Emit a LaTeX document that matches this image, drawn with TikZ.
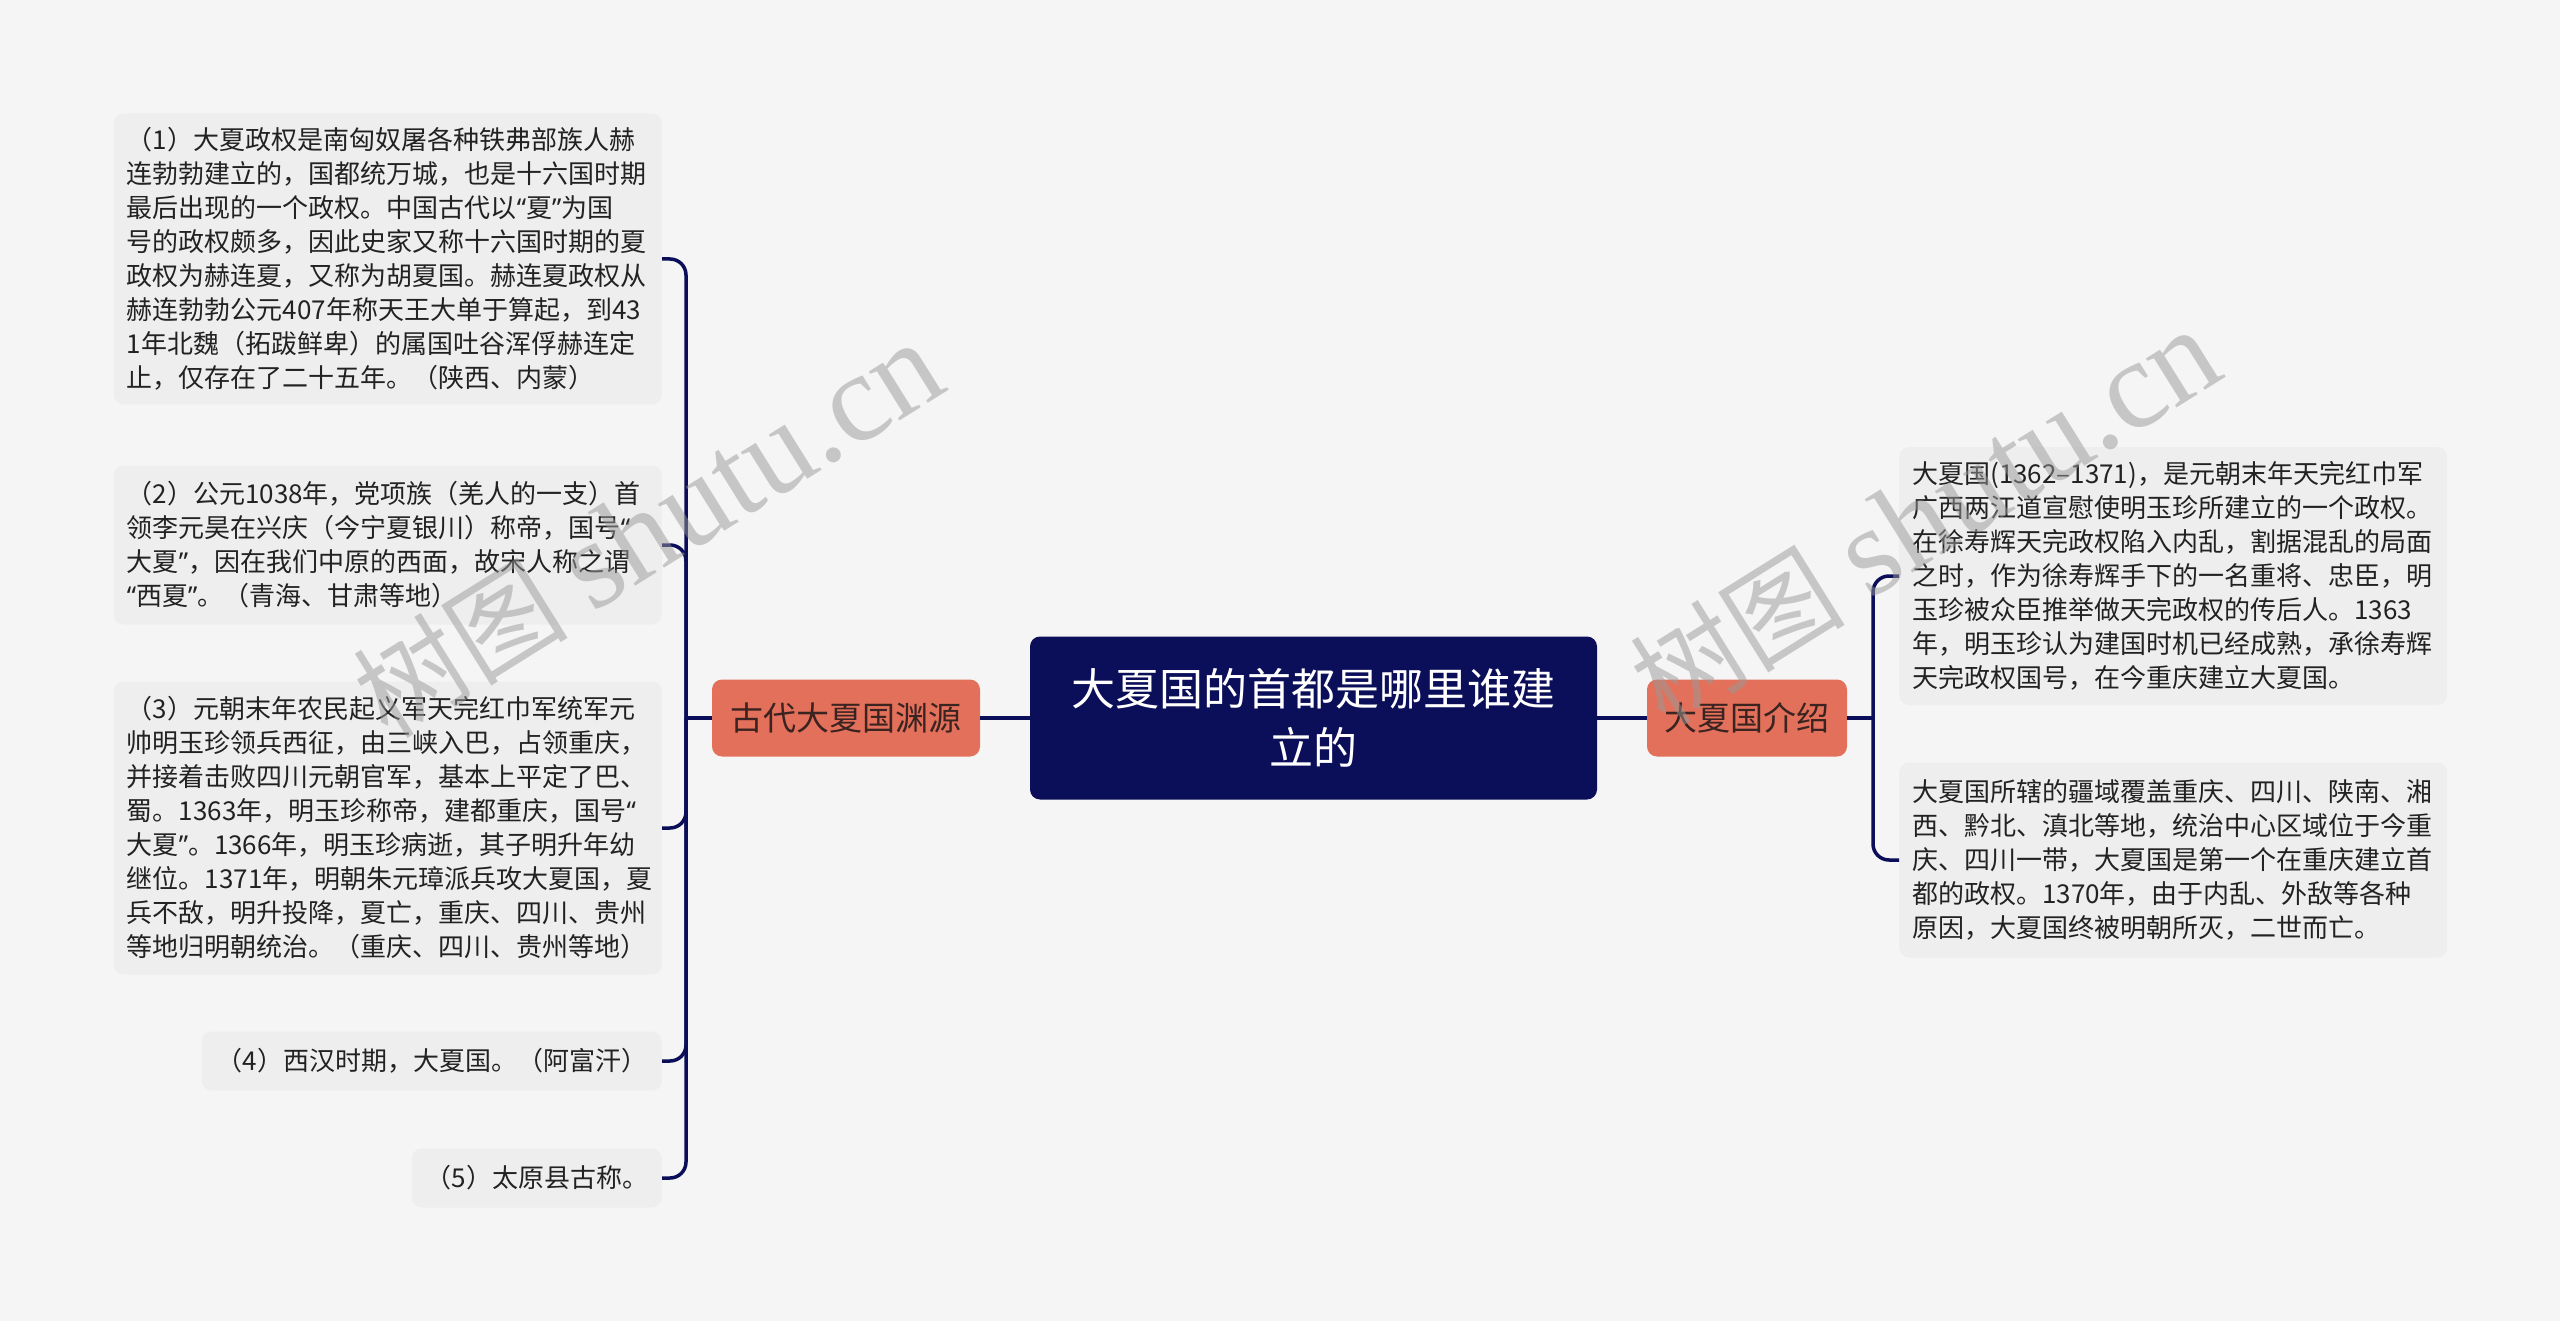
\documentclass[tikz,border=0pt]{standalone}
\usepackage{fontspec}
\setmainfont{Noto Sans CJK SC}
\newfontfamily\wmlatin{Liberation Serif}
\newfontfamily\quotefont{Noto Sans}
\newcommand{\qo}{{\quotefont “}}
\newcommand{\qc}{{\quotefont ”}}
\definecolor{bgc}{HTML}{F5F5F5}
\definecolor{leaffill}{HTML}{EEEEEE}
\definecolor{navyc}{HTML}{0B0E58}
\definecolor{topicfill}{HTML}{E3705A}
\definecolor{txtc}{HTML}{222222}
\definecolor{topictxt}{HTML}{3A2320}
\definecolor{wmc}{HTML}{999999}
\begin{document}
\begin{tikzpicture}[x=1pt,y=-1pt,
  leaf/.style={fill=leaffill, rounded corners=10pt, text=txtc,
    font=\fontsize{26}{34}\selectfont, align=left, inner xsep=13pt, inner ysep=0pt},
  bigleaf/.style={leaf, text width=522pt},
  topic/.style={fill=topicfill, rounded corners=10pt, text=topictxt,
    font=\fontsize{33}{40}\selectfont, inner sep=0pt, minimum height=77pt},
  rootbox/.style={fill=navyc, rounded corners=10pt, text=white, align=center,
    font=\fontsize{44}{59}\selectfont, inner sep=0pt, minimum width=567pt, minimum height=163pt},
  conn/.style={draw=navyc, line width=3.5pt, rounded corners=16pt},
  wmark/.style={rotate=32, text=wmc, opacity=0.5, inner sep=0pt}
]
\useasboundingbox (0,0) rectangle (2560,1321);
\fill[bgc] (0,0) rectangle (2560,1321);

% root and topics
\node[rootbox] (root) at (1313.5,718) {大夏国的首都是哪里谁建\\立的};
\node[topic, minimum width=268pt] (tl) at (846,718) {古代大夏国渊源};
\node[topic, minimum width=200pt] (tr) at (1747,718) {大夏国介绍};

% left leaves
\node[bigleaf, minimum height=291pt, anchor=east] (l1) at (662,259) {（1）大夏政权是南匈奴屠各种铁弗部族人赫\\连勃勃建立的，国都统万城，也是十六国时期\\最后出现的一个政权。中国古代以\qo 夏\qc 为国\\号的政权颇多，因此史家又称十六国时期的夏\\政权为赫连夏，又称为胡夏国。赫连夏政权从\\赫连勃勃公元407年称天王大单于算起，到43\\1年北魏（拓跋鲜卑）的属国吐谷浑俘赫连定\\止，仅存在了二十五年。（陕西、内蒙）};
\node[bigleaf, minimum height=159pt, anchor=east] (l2) at (662,545) {（2）公元1038年，党项族（羌人的一支）首\\领李元昊在兴庆（今宁夏银川）称帝，国号\qo\\大夏\qc ，因在我们中原的西面，故宋人称之谓\\\qo 西夏\qc 。（青海、甘肃等地）};
\node[bigleaf, minimum height=293pt, anchor=east] (l3) at (662,828) {（3）元朝末年农民起义军天完红巾军统军元\\帅明玉珍领兵西征，由三峡入巴，占领重庆，\\并接着击败四川元朝官军，基本上平定了巴、\\蜀。1363年，明玉珍称帝，建都重庆，国号\qo\\大夏\qc 。1366年，明玉珍病逝，其子明升年幼\\继位。1371年，明朝朱元璋派兵攻大夏国，夏\\兵不敌，明升投降，夏亡，重庆、四川、贵州\\等地归明朝统治。（重庆、四川、贵州等地）};
\node[leaf, minimum width=460pt, minimum height=59pt, anchor=east, align=right] (l4) at (662,1061) {（4）西汉时期，大夏国。（阿富汗）};
\node[leaf, minimum width=250pt, minimum height=59pt, anchor=east, align=right] (l5) at (662,1178) {（5）太原县古称。};

% right leaves
\node[bigleaf, minimum height=258pt, anchor=west] (r1) at (1899,576) {大夏国(1362–1371)，是元朝末年天完红巾军\\广西两江道宣慰使明玉珍所建立的一个政权。\\在徐寿辉天完政权陷入内乱，割据混乱的局面\\之时，作为徐寿辉手下的一名重将、忠臣，明\\玉珍被众臣推举做天完政权的传后人。1363\\年，明玉珍认为建国时机已经成熟，承徐寿辉\\天完政权国号，在今重庆建立大夏国。};
\node[bigleaf, minimum height=195pt, anchor=west] (r2) at (1899,860) {大夏国所辖的疆域覆盖重庆、四川、陕南、湘\\西、黔北、滇北等地，统治中心区域位于今重\\庆、四川一带，大夏国是第一个在重庆建立首\\都的政权。1370年，由于内乱、外敌等各种\\原因，大夏国终被明朝所灭，二世而亡。};

% connectors
\coordinate (jl) at (686,718);
\coordinate (jr) at (1873,718);
\draw[conn] (root.west) -- (tl.east);
\draw[conn] (root.east) -- (tr.west);
\draw[conn] (tl.west) -- (jl);
\draw[conn] (tr.east) -- (jr);
\foreach \n in {l1,l2,l3,l4,l5} \draw[conn] (jl) |- (\n.east);
\foreach \n in {r1,r2} \draw[conn] (jr) |- (\n.west);

% watermarks
\node[wmark] (wm1) at (648,530) {\fontsize{108}{110}\selectfont 树图 {\wmlatin\fontsize{126}{126}\selectfont shutu.cn}};
\node[wmark] (wm2) at (1925,517) {\fontsize{108}{110}\selectfont 树图 {\wmlatin\fontsize{126}{126}\selectfont shutu.cn}};
\end{tikzpicture}
\end{document}
